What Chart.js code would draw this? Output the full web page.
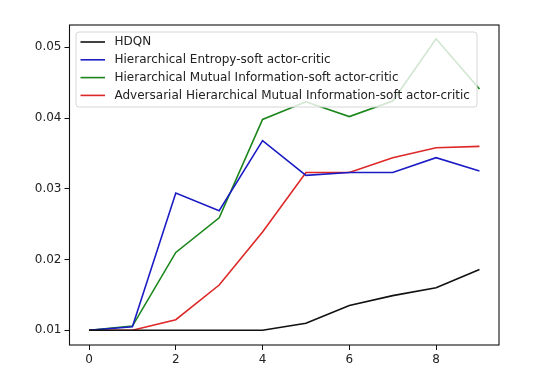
<!DOCTYPE html>
<html>
<head>
<meta charset="utf-8">
<script src="https://cdn.jsdelivr.net/npm/chart.js@4/dist/chart.umd.min.js"></script>
<style>
  html, body { margin: 0; padding: 0; background: #fff; }
  canvas { display: block; }
</style>
</head>
<body>
<canvas id="myChart" width="538" height="391"></canvas>
<script>
// data
const steps = [0, 1, 2, 3, 4, 5, 6, 7, 8, 9];
const hdqn = [0.0100, 0.0100, 0.0100, 0.0100, 0.0100, 0.0110, 0.0135, 0.0149, 0.0160, 0.0186];
const entropySac = [0.0100, 0.0105, 0.0294, 0.0269, 0.0368, 0.0319, 0.0323, 0.0323, 0.0344, 0.0325];
const mutualSac = [0.0100, 0.0106, 0.0210, 0.0259, 0.0398, 0.0423, 0.0402, 0.0424, 0.0512, 0.0441];
const advMutualSac = [0.0100, 0.0100, 0.0115, 0.0164, 0.0239, 0.0323, 0.0323, 0.0344, 0.0358, 0.0360];
const xTicks = [0, 2, 4, 6, 8];
const yTicks = [0.01, 0.02, 0.03, 0.04, 0.05];

const FONT = 'DejaVu Sans';
const series = [
    {label: 'HDQN', values: hdqn, color: '#111111'},
    {label: 'Hierarchical Entropy-soft actor-critic', values: entropySac, color: '#1c1cc4'},
    {label: 'Hierarchical Mutual Information-soft actor-critic', values: mutualSac, color: '#1b861b'},
    {label: 'Adversarial Hierarchical Mutual Information-soft actor-critic', values: advMutualSac, color: '#de2727'}
];

// frame + matplotlib-like legend drawn over the lines
const frameLegend = {
    id: 'frameLegend',
    afterDatasetsDraw(chart) {
        const {ctx, chartArea: a} = chart;
        ctx.save();
        const bx = a.left + 6.5, by = a.top + 7, bw = 401, bh = 75;
        ctx.beginPath();
        ctx.roundRect(bx, by, bw, bh, 3);
        ctx.fillStyle = 'rgba(255,255,255,0.8)';
        ctx.fill();
        ctx.strokeStyle = '#d6d6d6';
        ctx.lineWidth = 1;
        ctx.stroke();
        ctx.font = '12px "' + FONT + '"';
        ctx.textBaseline = 'middle';
        ctx.fillStyle = '#222';
        series.forEach((s, i) => {
            const y = by + 10 + i * 17.8;
            ctx.beginPath();
            ctx.moveTo(bx + 4.5, y);
            ctx.lineTo(bx + 29, y);
            ctx.strokeStyle = s.color;
            ctx.lineWidth = 1.6;
            ctx.stroke();
            ctx.fillText(s.label, bx + 38.5, y);
        });
        ctx.strokeStyle = '#111';
        ctx.lineWidth = 1.1;
        ctx.strokeRect(a.left, a.top, a.right - a.left, a.bottom - a.top);
        ctx.restore();
    }
};

const ctx = document.getElementById('myChart');
const myChart = new Chart(ctx, {
    type: 'line',
    data: {
        datasets: series.map(s => ({
            label: s.label,
            data: s.values.map((v, i) => ({x: steps[i], y: v})),
            borderColor: s.color,
            backgroundColor: s.color,
            borderWidth: 1.6,
            pointRadius: 0,
            tension: 0,
            fill: false
        }))
    },
    options: {
        responsive: false,
        animation: false,
        layout: {padding: {left: 0, right: 39, top: 25, bottom: 0}},
        plugins: {legend: {display: false}, tooltip: {enabled: false}},
        scales: {
            x: {
                type: 'linear',
                min: -0.45,
                max: 9.45,
                afterBuildTicks: scale => { scale.ticks = xTicks.map(v => ({value: v})); },
                afterFit: scale => { scale.height = 46; },
                grid: {drawOnChartArea: false, drawTicks: true, tickLength: 5, color: '#111'},
                border: {display: false},
                ticks: {color: '#222', padding: 3, font: {family: FONT, size: 12}, maxRotation: 0}
            },
            y: {
                type: 'linear',
                min: 0.00792,
                max: 0.05315,
                afterBuildTicks: scale => { scale.ticks = yTicks.map(v => ({value: v})); },
                afterFit: scale => { scale.width = 69.5; },
                grid: {drawOnChartArea: false, drawTicks: true, tickLength: 5, color: '#111'},
                border: {display: false},
                ticks: {
                    color: '#222', padding: 3, font: {family: FONT, size: 12},
                    callback: v => v.toFixed(2)
                }
            }
        }
    },
    plugins: [frameLegend]
});
</script>
</body>
</html>
